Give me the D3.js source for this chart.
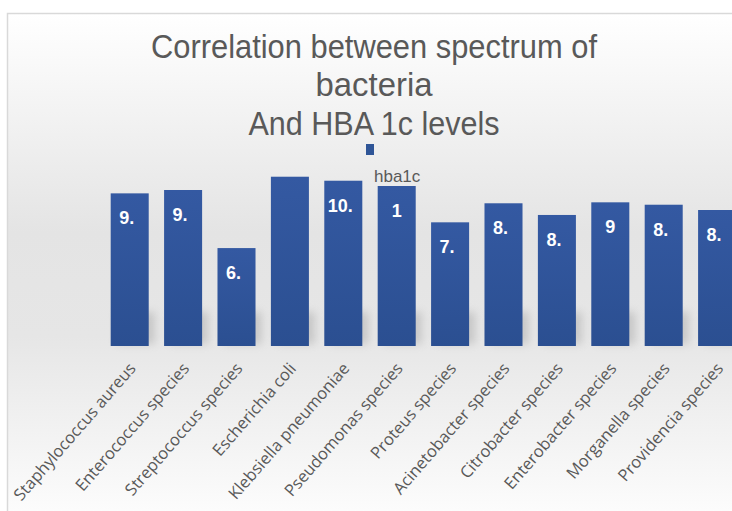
<!DOCTYPE html>
<html>
<head>
<meta charset="utf-8">
<script src="https://cdn.jsdelivr.net/npm/d3@7"></script>
<style>
  html, body { margin: 0; padding: 0; background: #ffffff; }
  svg { display: block; }
</style>
</head>
<body>
<svg id="chart" width="732" height="511"></svg>
<script>
// Bacterial species isolated and the mean HbA1c level for each
const categories = [
  "Staphylococcus aureus", "Enterococcus species", "Streptococcus species",
  "Escherichia coli", "Klebsiella pneumoniae", "Pseudomonas species",
  "Proteus species", "Acinetobacter species", "Citrobacter species",
  "Enterobacter species", "Morganella species", "Providencia species"
];
const hba1c = [9.54, 9.75, 6.12, 10.58, 10.33, 10.0, 7.73, 8.92, 8.19, 8.98, 8.83, 8.5];
// data labels as they appear, cut short by the bar width
const valueLabels = ["9.", "9.", "6.", "", "10.", "1", "7.", "8.", "8.", "9", "8.", "8."];
const titleLines = ["Correlation between spectrum of", "bacteria", "And HBA 1c levels"];
const seriesName = "hba1c";

const svg = d3.select("#chart");
const defs = svg.append("defs");

// chart area fill: white at the top, soft grey through the middle, white at the bottom
const bg = defs.append("linearGradient").attr("id", "bgGrad")
  .attr("x1", 0).attr("y1", 0).attr("x2", 0).attr("y2", 1);
[["0%", "#ffffff"], ["42%", "#e4e4e4"], ["62%", "#e6e6e6"], ["100%", "#ffffff"]]
  .forEach(([o, c]) => bg.append("stop").attr("offset", o).attr("stop-color", c));

const barGrad = defs.append("linearGradient").attr("id", "barGrad")
  .attr("x1", 0).attr("y1", 0).attr("x2", 0).attr("y2", 1);
[["0%", "#3459a2"], ["100%", "#2b4f91"]]
  .forEach(([o, c]) => barGrad.append("stop").attr("offset", o).attr("stop-color", c));

const blur = defs.append("filter").attr("id", "shadowBlur")
  .attr("x", "-50%").attr("y", "-50%").attr("width", "200%").attr("height", "200%");
blur.append("feGaussianBlur").attr("stdDeviation", 4);

svg.append("rect")
  .attr("x", 7.5).attr("y", 13.5)
  .attr("width", 760).attr("height", 520)
  .attr("fill", "url(#bgGrad)")
  .attr("stroke", "#d9d9d9").attr("stroke-width", 1.5);

// scales
const baseY = 346;
const x = d3.scaleBand().domain(categories)
  .range([103, 743.8]).paddingInner(0.288).paddingOuter(0.144);
const y = d3.scaleLinear().domain([0, 12]).range([baseY, 154]);

// title
const title = svg.append("g").attr("fill", "#595959")
  .attr("font-family", "Liberation Sans, Arial, sans-serif").attr("font-size", 34);
const titleLengths = [446, 117, 251];
const titleBaselines = [58, 96, 135];
titleLines.forEach((t, i) => {
  title.append("text")
    .attr("x", 374).attr("y", titleBaselines[i])
    .attr("text-anchor", "middle")
    .attr("textLength", titleLengths[i]).attr("lengthAdjust", "spacingAndGlyphs")
    .text(t);
});

// legend
svg.append("rect").attr("x", 366).attr("y", 144).attr("width", 8).attr("height", 11)
  .attr("fill", "#2f5597");
svg.append("text").attr("x", 374).attr("y", 182)
  .attr("font-family", "Liberation Sans, Arial, sans-serif").attr("font-size", 17)
  .attr("fill", "#595959").text(seriesName);

// soft shadows at the foot of each bar
svg.append("g").selectAll("rect")
  .data(categories)
  .join("rect")
  .attr("x", d => x(d) + 6)
  .attr("y", baseY - 34)
  .attr("width", x.bandwidth())
  .attr("height", 32)
  .attr("fill", "#808080")
  .attr("opacity", 0.3)
  .attr("filter", "url(#shadowBlur)");

// bars
svg.append("g").selectAll("rect")
  .data(hba1c)
  .join("rect")
  .attr("x", (d, i) => x(categories[i]))
  .attr("y", d => y(d))
  .attr("width", x.bandwidth())
  .attr("height", d => baseY - y(d))
  .attr("fill", "url(#barGrad)");

// value labels inside the bars
svg.append("g")
  .attr("font-family", "Liberation Sans, Arial, sans-serif")
  .attr("font-weight", "bold").attr("font-size", 18).attr("fill", "#ffffff")
  .selectAll("text")
  .data(hba1c)
  .join("text")
  .attr("x", (d, i) => x(categories[i]) + x.bandwidth() / 2 - (valueLabels[i].endsWith(".") ? 3 : 0))
  .attr("y", d => y(d) + 31)
  .attr("text-anchor", "middle")
  .text((d, i) => valueLabels[i]);

// category axis with slanted labels
const axis = svg.append("g")
  .attr("transform", `translate(0,${baseY})`)
  .call(d3.axisBottom(x).tickSize(0));
axis.select(".domain").remove();
axis.selectAll("text")
  .attr("font-family", "Open Sans, sans-serif")
  .attr("font-size", 16.5)
  .attr("fill", "#595959")
  .attr("text-anchor", "end")
  .attr("x", 0).attr("y", 0).attr("dy", 0)
  .attr("transform", "translate(7,23) rotate(-49)");
</script>
</body>
</html>
